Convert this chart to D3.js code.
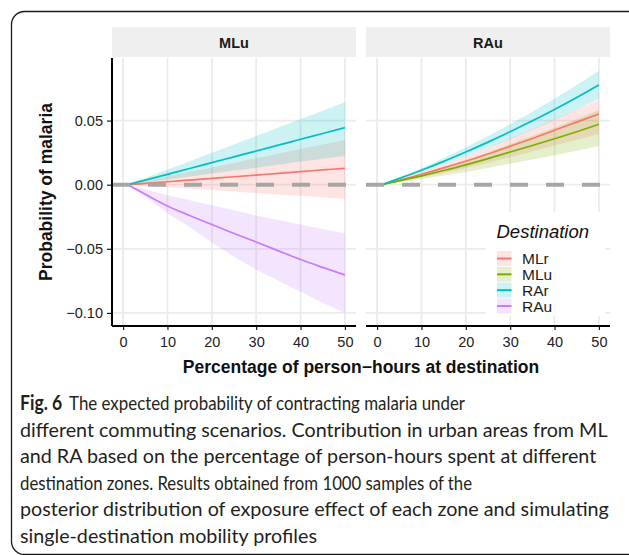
<!DOCTYPE html>
<html>
<head>
<meta charset="utf-8">
<script src="https://cdn.jsdelivr.net/npm/d3@7"></script>
<style>
  html, body { margin: 0; padding: 0; background: #fff; }
  svg { display: block; }
</style>
</head>
<body>
<svg id="chart" width="629" height="555"></svg>
<script>
// Percentage of person-hours spent at the destination
const xValues = [1, 5, 10, 15, 20, 25, 30, 35, 40, 45, 50];

// Facets (origin zone) and destinations
const panelNames = ["MLu", "RAu"];
const destinations = ["MLr", "MLu", "RAr", "RAu"];
const destColors = ["#F8766D", "#7CAE00", "#00BFC4", "#C77CFF"];

// Origin MLu: expected change in probability, with 95% band
const mlu_MLr_mid = [0, 0.0010, 0.0023, 0.0036, 0.0049, 0.0062, 0.0075, 0.0088, 0.0102, 0.0115, 0.0128];
const mlu_MLr_lo  = [0, -0.0008, -0.0019, -0.0030, -0.0041, -0.0053, -0.0064, -0.0076, -0.0087, -0.0098, -0.0109];
const mlu_MLr_hi  = [0, 0.0028, 0.0064, 0.0100, 0.0135, 0.0170, 0.0206, 0.0242, 0.0278, 0.0314, 0.0349];
const mlu_RAr_mid = [0, 0.0036, 0.0081, 0.0126, 0.0172, 0.0217, 0.0263, 0.0308, 0.0354, 0.0399, 0.0445];
const mlu_RAr_lo  = [0, 0.0018, 0.0041, 0.0064, 0.0087, 0.0110, 0.0133, 0.0156, 0.0180, 0.0203, 0.0226];
const mlu_RAr_hi  = [0, 0.0052, 0.0118, 0.0183, 0.0249, 0.0314, 0.0380, 0.0446, 0.0512, 0.0577, 0.0643];
const mlu_RAu_mid = [0, -0.0075, -0.0166, -0.0240, -0.0310, -0.0380, -0.0447, -0.0516, -0.0584, -0.0645, -0.0704];
const mlu_RAu_lo  = [0, -0.0095, -0.0220, -0.0330, -0.0450, -0.0560, -0.0662, -0.0750, -0.0835, -0.0920, -0.1003];
const mlu_RAu_hi  = [0, -0.0034, -0.0083, -0.0122, -0.0160, -0.0200, -0.0240, -0.0275, -0.0310, -0.0345, -0.0379];

// Origin RAu
const rau_MLr_mid = [0, 0.0035, 0.0081, 0.0131, 0.0183, 0.0239, 0.0300, 0.0360, 0.0425, 0.0488, 0.0551];
const rau_MLr_lo  = [0, 0.0025, 0.0058, 0.0094, 0.0131, 0.0171, 0.0215, 0.0258, 0.0305, 0.0350, 0.0395];
const rau_MLr_hi  = [0, 0.0042, 0.0097, 0.0157, 0.0220, 0.0287, 0.0360, 0.0432, 0.0510, 0.0585, 0.0660];
const rau_MLu_mid = [0, 0.0030, 0.0069, 0.0111, 0.0155, 0.0203, 0.0255, 0.0306, 0.0358, 0.0413, 0.0471];
const rau_MLu_lo  = [0, 0.0019, 0.0044, 0.0071, 0.0099, 0.0130, 0.0163, 0.0196, 0.0229, 0.0264, 0.0302];
const rau_MLu_hi  = [0, 0.0037, 0.0086, 0.0138, 0.0192, 0.0252, 0.0316, 0.0379, 0.0444, 0.0512, 0.0583];
const rau_RAr_mid = [0, 0.0049, 0.0113, 0.0182, 0.0255, 0.0332, 0.0413, 0.0498, 0.0587, 0.0680, 0.0778];
const rau_RAr_lo  = [0, 0.0042, 0.0097, 0.0157, 0.0219, 0.0286, 0.0355, 0.0428, 0.0505, 0.0585, 0.0668];
const rau_RAr_hi  = [0, 0.0056, 0.0129, 0.0208, 0.0292, 0.0380, 0.0472, 0.0569, 0.0670, 0.0777, 0.0889];

// Axis ticks
const xTicks = [0, 10, 20, 30, 40, 50];
const yTicks = [-0.10, -0.05, 0.00, 0.05];

// Caption lines
const captionLabel = "Fig. 6";
const captionLines = [
  "The expected probability of contracting malaria under",
  "different commuting scenarios. Contribution in urban areas from ML",
  "and RA based on the percentage of person-hours spent at different",
  "destination zones. Results obtained from 1000 samples of the",
  "posterior distribution of exposure effect of each zone and simulating",
  "single-destination mobility profiles"
];
// set widths for the tighter-set lines (null keeps the natural width)
const captionFit = [445, null, null, 452, null, null];

// ---- assemble series ----
function series(dest, mid, lo, hi) {
  return { dest, color: destColors[destinations.indexOf(dest)],
    points: xValues.map((x, i) => ({ x, mid: mid[i], lo: lo[i], hi: hi[i] })) };
}
const panelSeries = {
  MLu: [series("MLr", mlu_MLr_mid, mlu_MLr_lo, mlu_MLr_hi),
        series("RAr", mlu_RAr_mid, mlu_RAr_lo, mlu_RAr_hi),
        series("RAu", mlu_RAu_mid, mlu_RAu_lo, mlu_RAu_hi)],
  RAu: [series("MLr", rau_MLr_mid, rau_MLr_lo, rau_MLr_hi),
        series("MLu", rau_MLu_mid, rau_MLu_lo, rau_MLu_hi),
        series("RAr", rau_RAr_mid, rau_RAr_lo, rau_RAr_hi)]
};

const svg = d3.select("#chart");
const FONT = "'Liberation Sans', Arial, Helvetica, sans-serif";

// outer frame
svg.append("rect")
  .attr("x", 11.5).attr("y", 11.5).attr("width", 700).attr("height", 543)
  .attr("rx", 13).attr("ry", 13)
  .attr("fill", "none").attr("stroke", "#1a1a1a").attr("stroke-width", 1.3);

// layout
const plotTop = 58, plotBottom = 326;
const panelBoxes = [{ left: 112, right: 356 }, { left: 366, right: 610 }];
const y = d3.scaleLinear().domain([-0.1102, 0.0988]).range([plotBottom, plotTop]);

panelNames.forEach((name, pi) => {
  const box = panelBoxes[pi];
  const x = d3.scaleLinear().domain([-2.5, 52.5]).range([box.left, box.right]);
  const g = svg.append("g");

  // strip
  g.append("rect").attr("x", box.left).attr("y", 27)
    .attr("width", box.right - box.left).attr("height", 30).attr("fill", "#efefef");
  g.append("text").attr("x", (box.left + box.right) / 2).attr("y", 47.5)
    .attr("text-anchor", "middle").attr("font-family", FONT)
    .attr("font-weight", "bold").attr("font-size", 14.5).attr("fill", "#1a1a1a")
    .text(name);

  // grid
  g.selectAll(".gx").data(xTicks).join("line")
    .attr("x1", d => x(d)).attr("x2", d => x(d))
    .attr("y1", plotTop).attr("y2", plotBottom)
    .attr("stroke", "#ebebeb").attr("stroke-width", 1.8);
  g.selectAll(".gy").data(yTicks).join("line")
    .attr("x1", box.left).attr("x2", box.right)
    .attr("y1", d => y(d)).attr("y2", d => y(d))
    .attr("stroke", "#ebebeb").attr("stroke-width", 1.8);

  const ser = panelSeries[name];
  const area = d3.area().x(d => x(d.x)).y0(d => y(d.lo)).y1(d => y(d.hi)).curve(d3.curveMonotoneX);
  const line = d3.line().x(d => x(d.x)).y(d => y(d.mid)).curve(d3.curveMonotoneX);

  g.selectAll(".band").data(ser).join("path")
    .attr("d", d => area(d.points)).attr("fill", d => d.color).attr("fill-opacity", 0.2);

  g.selectAll(".mid").data(ser).join("path")
    .attr("d", d => line(d.points)).attr("fill", "none")
    .attr("stroke", d => d.color).attr("stroke-width", 1.7);

  // zero reference
  g.append("line").attr("x1", x(-2.5)).attr("x2", x(52.5))
    .attr("y1", y(0)).attr("y2", y(0))
    .attr("stroke", "#a6a6a6").attr("stroke-width", 4).attr("stroke-dasharray", "18,18");

  // x axis
  const xAxis = d3.axisBottom(x).tickValues(xTicks).tickSize(4).tickPadding(7).tickFormat(d3.format("d"));
  const ax = g.append("g").attr("transform", `translate(0,${plotBottom})`).call(xAxis);
  ax.select(".domain").remove();
  ax.selectAll("line").attr("stroke", "#1a1a1a").attr("stroke-width", 1.2);
  ax.selectAll("text").attr("font-family", FONT).attr("font-size", 14.5).attr("fill", "#222");
  g.append("line").attr("x1", box.left).attr("x2", box.right)
    .attr("y1", plotBottom).attr("y2", plotBottom)
    .attr("stroke", "#000").attr("stroke-width", 2);

  if (pi === 0) {
    const yAxis = d3.axisLeft(y).tickValues(yTicks).tickSize(5).tickPadding(4).tickFormat(d3.format(".2f"));
    const ay = g.append("g").attr("transform", `translate(${box.left},0)`).call(yAxis);
    ay.select(".domain").remove();
    ay.selectAll("line").attr("stroke", "#1a1a1a").attr("stroke-width", 1.2);
    ay.selectAll("text").attr("font-family", FONT).attr("font-size", 14.5).attr("fill", "#222");
    g.append("line").attr("x1", box.left).attr("x2", box.left)
      .attr("y1", plotTop).attr("y2", plotBottom)
      .attr("stroke", "#000").attr("stroke-width", 2);
  }
});

// axis titles
svg.append("text").attr("x", 361).attr("y", 373)
  .attr("text-anchor", "middle").attr("font-family", FONT)
  .attr("font-weight", "bold").attr("font-size", 17.5).attr("fill", "#111")
  .text("Percentage of person\u2212hours at destination");
svg.append("text").attr("transform", "translate(52,192) rotate(-90)")
  .attr("text-anchor", "middle").attr("font-family", FONT)
  .attr("font-weight", "bold").attr("font-size", 17.5).attr("fill", "#111")
  .text("Probability of malaria");

// legend
const lg = svg.append("g");
lg.append("rect").attr("x", 486).attr("y", 212).attr("width", 119).attr("height", 104).attr("fill", "#fff");
lg.append("text").attr("x", 496.5).attr("y", 237.5)
  .attr("font-family", FONT).attr("font-style", "italic").attr("font-size", 18.5).attr("fill", "#111")
  .text("Destination");
const rowY = d3.scalePoint().domain(destinations).range([258.5, 306]);
destinations.forEach((d, i) => {
  const cy = rowY(d);
  lg.append("rect").attr("x", 497).attr("y", cy - 7.5).attr("width", 14.5).attr("height", 15)
    .attr("fill", destColors[i]).attr("fill-opacity", 0.2);
  lg.append("line").attr("x1", 497).attr("x2", 511.5).attr("y1", cy).attr("y2", cy)
    .attr("stroke", destColors[i]).attr("stroke-width", 2);
  lg.append("text").attr("x", 522).attr("y", cy + 5.5)
    .attr("font-family", FONT).attr("font-size", 15.5).attr("fill", "#222").text(d);
});

// caption: one size for all lines, sized so the second line spans 20..608
const CAP_FONT = "Lato, 'Noto Sans', sans-serif";
const capBase = [410, 436.5, 463, 489.5, 516, 542.5];
const capNodes = captionLines.map((t, i) => {
  const tx = svg.append("text").attr("x", 20).attr("y", capBase[i])
    .attr("font-family", CAP_FONT).attr("font-size", 19).attr("fill", "#231f20");
  if (i === 0) {
    tx.append("tspan").attr("font-weight", "bold").attr("font-size", 20).text(captionLabel);
    tx.append("tspan").attr("dx", 8).text(t);
  } else {
    tx.text(t);
  }
  return tx;
});
const natural = capNodes[1].node().getComputedTextLength();
const capSize = 19 * 588 / natural;
capNodes.forEach((tx, i) => {
  tx.attr("font-size", capSize);
  if (i === 0) tx.select("tspan").attr("font-size", capSize * 1.04);
  if (captionFit[i]) tx.attr("textLength", captionFit[i]).attr("lengthAdjust", "spacingAndGlyphs");
});
</script>
</body>
</html>
